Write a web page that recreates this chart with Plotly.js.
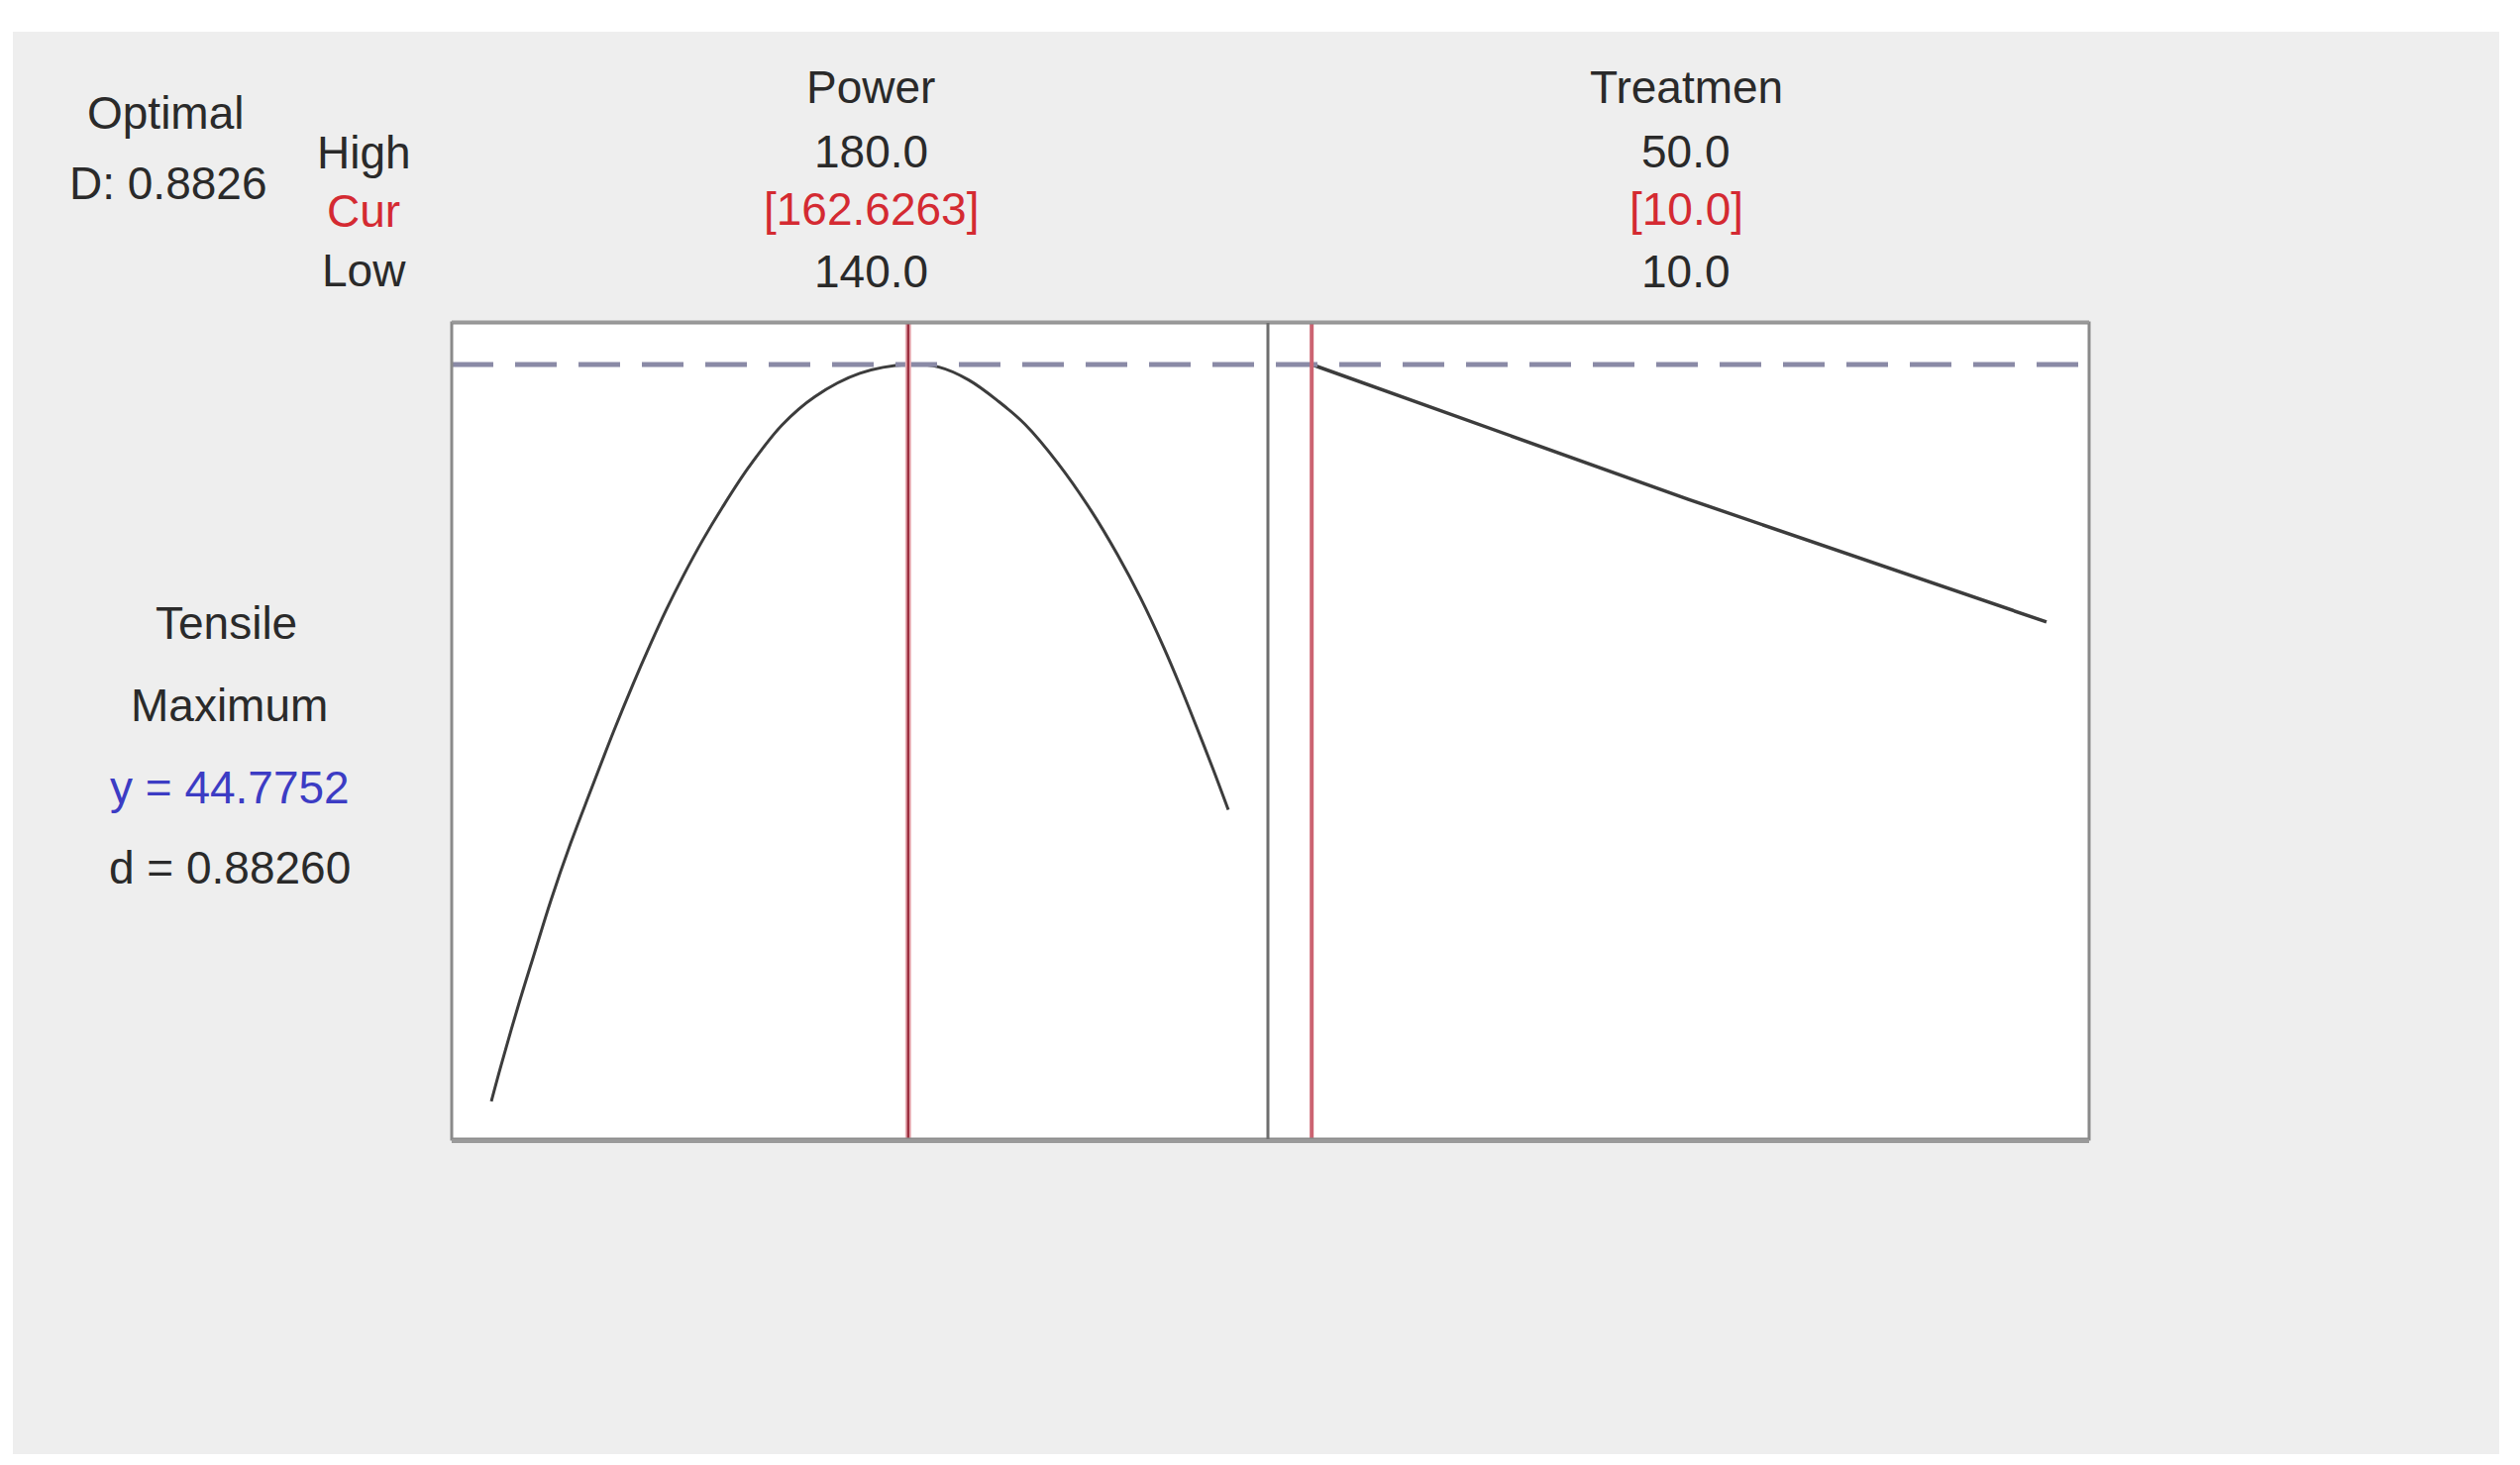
<!DOCTYPE html>
<html>
<head>
<meta charset="utf-8">
<script src="https://cdn.plot.ly/plotly-3.0.1.min.js"></script>
<style>html,body{margin:0;padding:0;background:#fff;}#chart{width:2544px;height:1479px;}</style>
</head>
<body>
<div id="chart"></div>
<script>
// ---- data ----
const powerValues = [140.00, 140.54, 141.44, 142.33, 143.23, 144.30, 145.38, 146.63, 147.70, 148.60, 149.50, 150.39, 151.47, 152.54, 153.98, 155.77, 157.56, 160.00, 162.6263,
                     164.30, 165.91, 167.53, 168.96, 170.75, 172.54, 173.98, 175.23, 176.49, 177.38, 178.28, 179.18, 180.00];
const tensileByPower = [29.28, 30.05, 31.26, 32.38, 33.50, 34.70, 35.80, 37.05, 38.06, 38.86, 39.62, 40.31, 41.08, 41.77, 42.62, 43.50, 44.10, 44.59, 44.7752,
                        44.72, 44.45, 44.00, 43.52, 42.70, 41.71, 40.78, 39.87, 38.83, 38.02, 37.15, 36.26, 35.41];
const treatValues    = [10, 30.5, 50];
const tensileByTreat = [44.7752, 41.94, 39.36];

const factorNames = ["Power", "Treatmen"];
const factorHigh  = ["180.0", "50.0"];
const factorCur   = ["[162.6263]", "[10.0]"];
const factorLow   = ["140.0", "10.0"];
const currentSettings = [162.6263, 10.0];
const optimalY = 44.7752;
const rowLabels = ["High", "Cur", "Low"];
const leftLabels = ["Optimal", "D: 0.8826"];
const responseLabels = ["Tensile", "Maximum", "y = 44.7752", "d = 0.88260"];

// ---- layout geometry (pixels) ----
const W = 2544, H = 1479;
const px = v => v / W;
const py = v => 1 - v / H;
const boxL = 456, boxM = 1280, boxR = 2109, boxT = 326, boxB = 1150;

const FONT = "Liberation Sans, Arial, sans-serif";
const FS = 46;
const black = "#2a2a2a", red = "#d42a32", blue = "#3c3cc4";

const traces = [
  {x: powerValues, y: tensileByPower, xaxis: "x", yaxis: "y", mode: "lines",
   line: {color: "#3c3c3c", width: 3, shape: "spline", smoothing: 1}, hoverinfo: "skip"},
  {x: treatValues, y: tensileByTreat, xaxis: "x2", yaxis: "y", mode: "lines",
   line: {color: "#3c3c3c", width: 3.5}, hoverinfo: "skip"}
];

const shapes = [
  {type: "rect", xref: "paper", yref: "paper", layer: "below",
   x0: px(13), x1: px(2523), y0: py(1468), y1: py(32), fillcolor: "#eeeeee", line: {width: 0}},
  {type: "rect", xref: "paper", yref: "paper", layer: "below",
   x0: px(boxL), x1: px(boxR), y0: py(boxB), y1: py(boxT), fillcolor: "#ffffff", line: {width: 0}},
  // dashed optimal line
  {type: "line", xref: "paper", yref: "y", x0: px(boxL), x1: px(boxR), y0: optimalY, y1: optimalY,
   line: {color: "#8a8aa6", width: 5, dash: "42px,22px"}},
  // current setting lines
  {type: "line", xref: "x", yref: "paper", x0: currentSettings[0], x1: currentSettings[0], y0: py(boxB), y1: py(boxT),
   line: {color: "#eab0b6", width: 6}},
  {type: "line", xref: "x", yref: "paper", x0: currentSettings[0], x1: currentSettings[0], y0: py(boxB), y1: py(boxT),
   line: {color: "#9c3040", width: 2.5}},
  {type: "line", xref: "x2", yref: "paper", x0: currentSettings[1], x1: currentSettings[1], y0: py(boxB), y1: py(boxT),
   line: {color: "#cc6472", width: 4}},
  // frame
  {type: "rect", xref: "paper", yref: "paper", x0: px(boxL), x1: px(boxR), y0: py(boxB), y1: py(boxT),
   line: {color: "#8a8a8a", width: 3}},
  {type: "line", xref: "paper", yref: "paper", x0: px(boxL), x1: px(boxR), y0: py(boxB + 2), y1: py(boxB + 2),
   line: {color: "#9a9a9a", width: 4}},
  {type: "line", xref: "paper", yref: "paper", x0: px(boxL), x1: px(boxR), y0: py(boxT - 1), y1: py(boxT - 1),
   line: {color: "#9a9a9a", width: 3}},
  {type: "line", xref: "paper", yref: "paper", x0: px(boxM), x1: px(boxM), y0: py(boxB), y1: py(boxT),
   line: {color: "#6e6e6e", width: 3}}
];

function ann(text, x, y, color) {
  return {text: text, xref: "paper", yref: "paper", x: px(x), y: py(y),
          xanchor: "center", yanchor: "middle", showarrow: false,
          font: {family: FONT, size: FS, color: color || black}};
}

const annotations = [
  ann(leftLabels[0], 167, 114),
  ann(leftLabels[1], 169, 185),
  ann(rowLabels[0], 367, 154),
  ann(rowLabels[1], 367, 213, red),
  ann(rowLabels[2], 367, 273),
  ann(factorNames[0], 879, 88),
  ann(factorHigh[0], 879, 153),
  ann(factorCur[0], 879, 211, red),
  ann(factorLow[0], 879, 274),
  ann(factorNames[1], 1702, 88),
  ann(factorHigh[1], 1702, 153),
  ann(factorCur[1], 1702, 211, red),
  ann(factorLow[1], 1702, 274),
  ann(responseLabels[0], 229, 629),
  ann(responseLabels[1], 232, 712),
  ann(responseLabels[2], 232, 795, blue),
  ann(responseLabels[3], 232, 876)
];

const axisCommon = {showgrid: false, zeroline: false, showline: false, showticklabels: false, ticks: "", fixedrange: true};

const layout = {
  width: W, height: H,
  margin: {l: 0, r: 0, t: 0, b: 0},
  paper_bgcolor: "#ffffff",
  plot_bgcolor: "rgba(0,0,0,0)",
  showlegend: false,
  xaxis: Object.assign({}, axisCommon, {domain: [px(boxL), px(boxM)], range: [137.849, 182.151], anchor: "y"}),
  xaxis2: Object.assign({}, axisCommon, {domain: [px(boxM), px(boxR)], range: [7.617, 52.319], anchor: "y"}),
  yaxis: Object.assign({}, axisCommon, {domain: [py(boxB), py(boxT)], range: [28.4835, 45.6502], anchor: "x"}),
  shapes: shapes,
  annotations: annotations
};

Plotly.newPlot("chart", traces, layout, {staticPlot: true, displayModeBar: false});
</script>
</body>
</html>
